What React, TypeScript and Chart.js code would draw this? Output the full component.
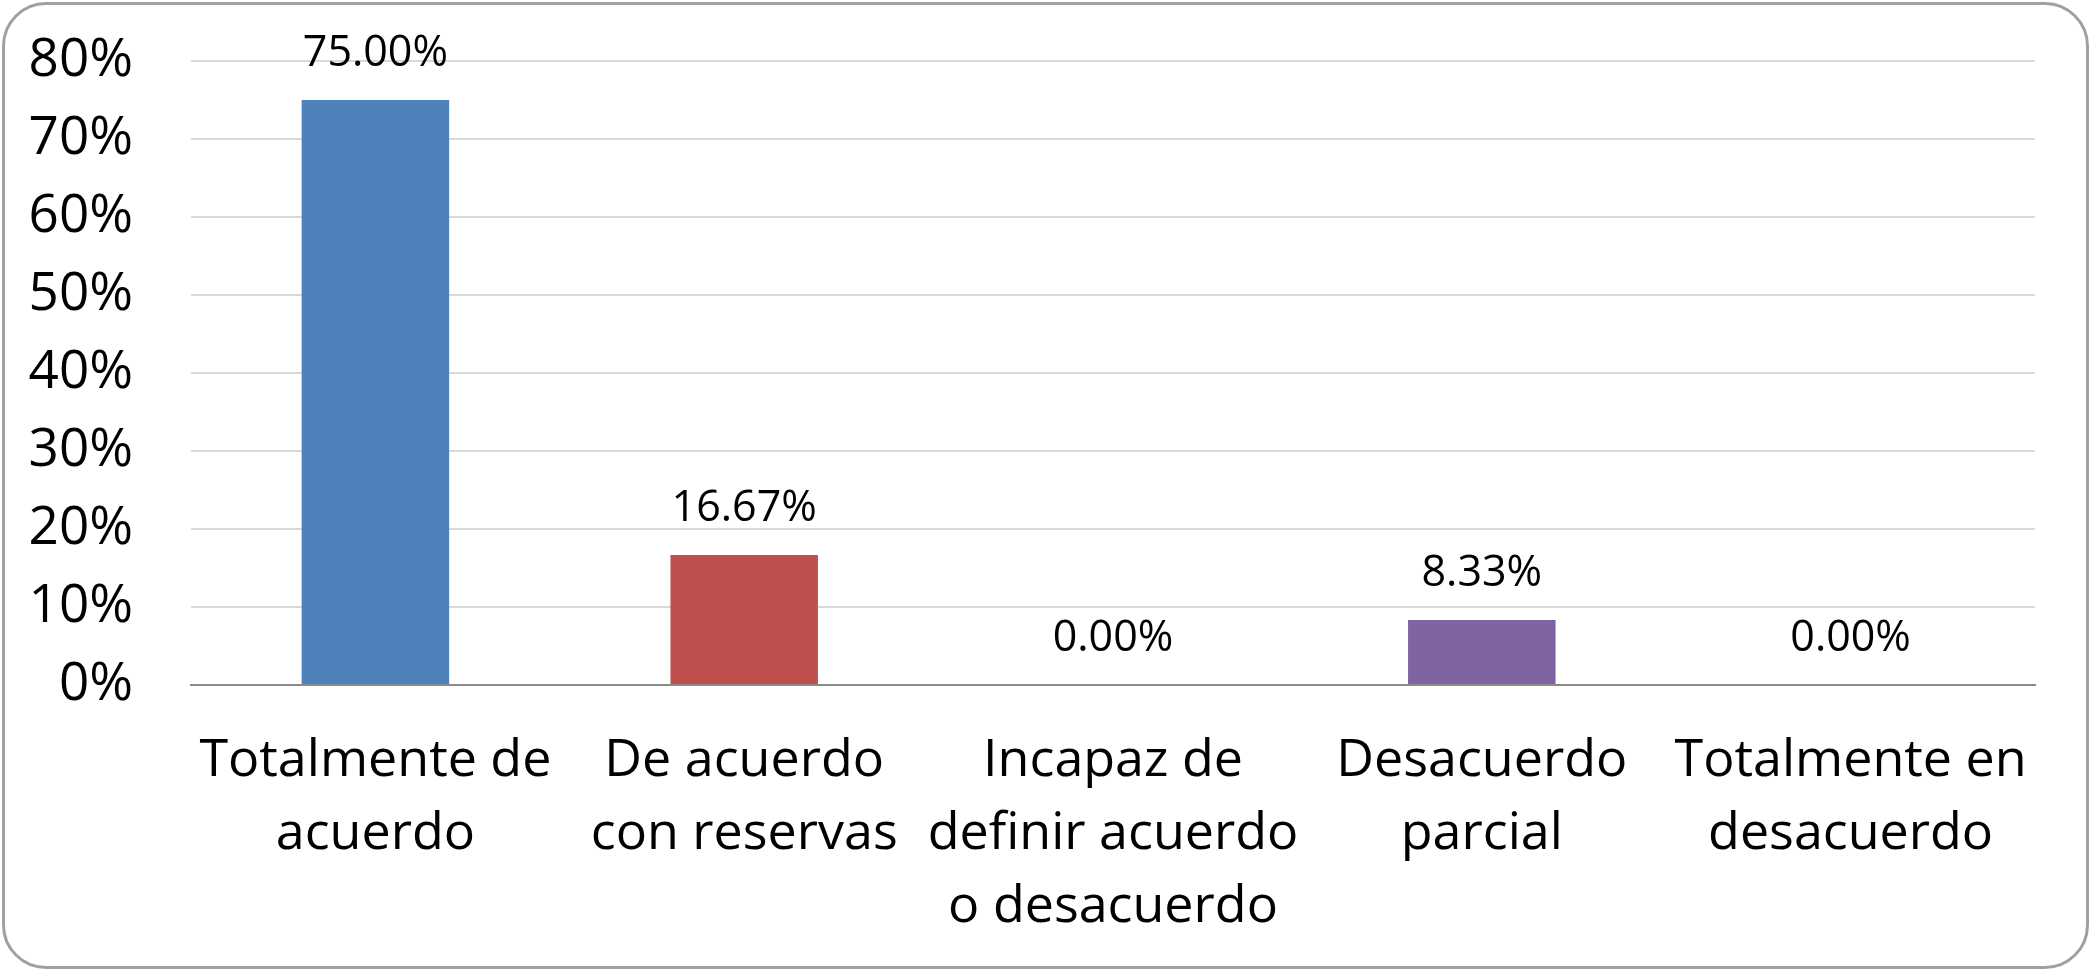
import React, { useEffect, useRef } from "react";
import { Chart, registerables } from "chart.js";

Chart.register(...registerables);

const categories: string[][] = [
  ["Totalmente de", "acuerdo"],
  ["De acuerdo", "con reservas"],
  ["Incapaz de", "definir acuerdo", "o desacuerdo"],
  ["Desacuerdo", "parcial"],
  ["Totalmente en", "desacuerdo"],
];
const values: number[] = [0.75, 0.1667, 0, 0.0833, 0];
const barColors: string[] = ["#4F81BD", "#C0504D", "#9BBB59", "#8064A2", "#4BACC6"];
const yMax = 0.8;
const yStep = 0.1;

const FONT = "'Open Sans', sans-serif";

const dataLabelPlugin = {
  id: "dataLabels",
  afterDatasetsDraw(chart: any) {
    const ctx = chart.ctx;
    const meta = chart.getDatasetMeta(0);
    ctx.save();
    ctx.font = `43px ${FONT}`;
    ctx.fillStyle = "#000";
    ctx.textAlign = "center";
    ctx.textBaseline = "alphabetic";
    meta.data.forEach((bar: any, i: number) => {
      const v = values[i];
      ctx.fillText((v * 100).toFixed(2) + "%", bar.x, bar.y - 34);
    });
    ctx.restore();
  },
};

export default function App() {
  const ref = useRef<HTMLCanvasElement | null>(null);
  useEffect(() => {
    if (!ref.current) return;
    const chart = new Chart(ref.current, {
      type: "bar",
      data: {
        labels: categories,
        datasets: [
          {
            data: values,
            backgroundColor: barColors,
            borderWidth: 0,
            barPercentage: 0.4,
            categoryPercentage: 1.0,
          },
        ],
      },
      options: {
        responsive: false,
        animation: false,
        layout: { padding: { top: 61, right: 56, left: 0, bottom: 0 } },
        plugins: {
          legend: { display: false },
          tooltip: { enabled: false },
        },
        scales: {
          x: {
            grid: { display: false, drawTicks: false },
            border: { display: true, color: "#8a8a8a", width: 2 },
            ticks: {
              color: "#000",
              font: { family: FONT, size: 52, lineHeight: 1.4 },
              padding: 40,
              maxRotation: 0,
              minRotation: 0,
              autoSkip: false,
            },
            afterFit(scale: any) {
              scale.height = 287;
            },
          },
          y: {
            min: 0,
            max: yMax,
            grid: { color: "#d9d9d9", lineWidth: 2, drawTicks: false },
            border: { display: false },
            ticks: {
              stepSize: yStep,
              color: "#000",
              font: { family: FONT, size: 53 },
              padding: 58,
              callback: (v: any) => Math.round(Number(v) * 100) + "%",
            },
            afterFit(scale: any) {
              scale.width = 191;
              scale.paddingTop = 0;
              scale.paddingBottom = 0;
            },
          },
        },
      },
      plugins: [dataLabelPlugin],
    });
    return () => chart.destroy();
  }, []);

  return (
    <div
      style={{
        position: "absolute",
        left: 0,
        top: 0,
        width: 2091,
        height: 972,
        background: "#fff",
        overflow: "hidden",
      }}
    >
      <div
        style={{
          position: "absolute",
          left: 2,
          top: 2,
          width: 2087,
          height: 967,
          boxSizing: "border-box",
          border: "3px solid #a0a0a0",
          borderRadius: 44,
        }}
      />
      <canvas
        ref={ref}
        width={2091}
        height={972}
        style={{ position: "absolute", left: 0, top: 0, width: 2091, height: 972 }}
      />
    </div>
  );
}
